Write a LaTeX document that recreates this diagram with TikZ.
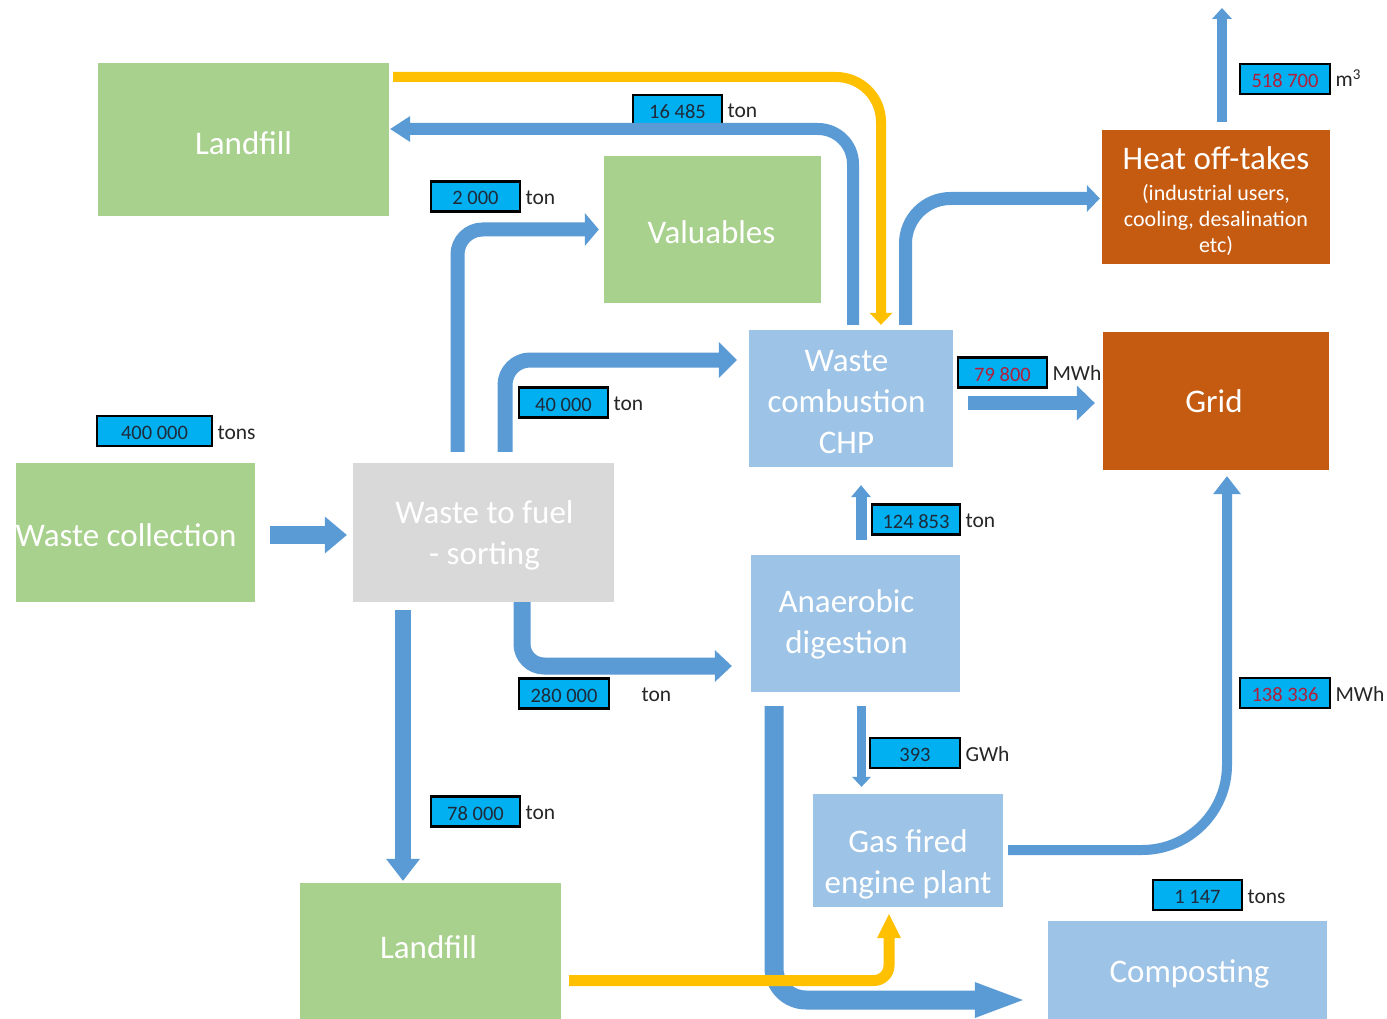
\documentclass[tikz,border=0pt]{standalone}
\usepackage{fontspec}
\setmainfont{Carlito}
\usetikzlibrary{arrows.meta}
\definecolor{boxgreen}{HTML}{A9D18E}
\definecolor{boxgray}{HTML}{D9D9D9}
\definecolor{boxblue}{HTML}{9DC3E6}
\definecolor{boxorange}{HTML}{C55A11}
\definecolor{flowblue}{HTML}{5B9BD5}
\definecolor{flowyellow}{HTML}{FFC000}
\definecolor{valcyan}{HTML}{00B0F0}
\definecolor{valred}{HTML}{B0203C}
\definecolor{valtext}{HTML}{1F2A3A}
\definecolor{unittext}{HTML}{262626}
\begin{document}
\begin{tikzpicture}[x=1pt,y=-1pt,
  proc/.style={inner sep=0pt},
  greenbox/.style={proc, fill=boxgreen},
  graybox/.style={proc, fill=boxgray},
  bluebox/.style={proc, fill=boxblue},
  orangebox/.style={proc, fill=boxorange},
  boxtext/.style={inner sep=0pt, text=white, align=center, font=\fontsize{33}{41}\selectfont},
  valbox/.style={draw=black, line width=2.8pt, fill=valcyan, minimum width=89pt, minimum height=30pt, inner sep=0pt, text=valtext, text height=17pt, text depth=0pt, font=\fontsize{20.5}{24}\selectfont},
  redval/.style={valbox, text=valred},
  unitlabel/.style={anchor=west, inner sep=0pt, text=unittext, text height=16pt, text depth=0pt, font=\fontsize{21.5}{24}\selectfont},
  flow/.style={draw=flowblue, line width=#1pt},
  yflow/.style={draw=flowyellow, line width=#1pt}
]
\useasboundingbox (0,0) rectangle (1387,1019);
\fill[white] (0,0) rectangle (1387,1019);

% process boxes
\node[greenbox, minimum width=291pt, minimum height=153pt] (landtop) at (243.5,139.5) {};
\node[greenbox, minimum width=217pt, minimum height=147pt] (valu) at (712.5,229.5) {};
\node[greenbox, minimum width=239pt, minimum height=139pt] (coll) at (135.5,532.5) {};
\node[graybox, minimum width=261pt, minimum height=139pt] (sort) at (483.5,532.5) {};
\node[bluebox, minimum width=204pt, minimum height=137pt] (chp) at (851,398.5) {};
\node[orangebox, minimum width=228pt, minimum height=134pt] (heat) at (1216,197) {};
\node[orangebox, minimum width=226pt, minimum height=138pt] (grid) at (1216,401) {};
\node[bluebox, minimum width=209pt, minimum height=137pt] (ad) at (855.5,623.5) {};
\node[bluebox, minimum width=190pt, minimum height=113pt] (gas) at (908,850.5) {};
\node[greenbox, minimum width=261pt, minimum height=136pt] (landbot) at (430.5,951) {};
\node[bluebox, minimum width=279pt, minimum height=98pt] (comp) at (1187.5,970) {};

% box texts
\node[boxtext] (landtop-t) at ([yshift=-4pt]landtop.center) {Landfill};
\node[boxtext] (valu-t) at ([xshift=-1pt,yshift=-3pt]valu.center) {Valuables};
\node[boxtext] (coll-t) at ([xshift=-9.5pt,yshift=-3pt]coll.center) {Waste collection};
\node[boxtext] (sort-t) at ([xshift=1pt,yshift=-2.5pt]sort.center) {Waste to fuel\\- sorting};
\node[boxtext] (chp-t) at ([xshift=-4.5pt,yshift=-4pt]chp.center) {Waste\\combustion\\CHP};
\node[boxtext, font=\fontsize{22}{26}\selectfont] (heat-t) at ([yshift=-4pt]heat.center) {{\fontsize{33}{33}\selectfont Heat off-takes}\\[5pt](industrial users,\\cooling, desalination\\etc)};
\node[boxtext] (grid-t) at ([xshift=-2pt]grid.center) {Grid};
\node[boxtext] (ad-t) at ([xshift=-9pt,yshift=-1pt]ad.center) {Anaerobic\\digestion};
\node[boxtext] (gas-t) at ([yshift=-13.5pt]gas.center) {Gas fired\\engine plant};
\node[boxtext] (landbot-t) at ([xshift=-2pt,yshift=4pt]landbot.center) {Landfill};
\node[boxtext] (comp-t) at ([xshift=2pt,yshift=-4pt]comp.center) {Composting};

% value labels
\node[valbox] (q1) at (677.5,110) {16 485};
\node[unitlabel] (q1u) at ([xshift=4pt]q1.east) {ton};
\node[valbox] (q2) at (475.5,196.5) {2 000};
\node[unitlabel] (q2u) at ([xshift=4pt]q2.east) {ton};
\node[valbox, minimum width=115pt] (q3) at (154.5,431) {400 000};
\node[unitlabel] (q3u) at ([xshift=4pt]q3.east) {tons};
\node[valbox] (q4) at (563.5,402.5) {40 000};
\node[unitlabel] (q4u) at ([xshift=4pt]q4.east) {ton};
\node[valbox, minimum width=90pt] (q5) at (564,693.5) {280 000};
\node[unitlabel] (q5u) at ([xshift=31pt]q5.east) {ton};
\node[valbox] (q6) at (475.5,811.5) {78 000};
\node[unitlabel] (q6u) at ([xshift=4pt]q6.east) {ton};
\node[valbox, minimum width=88pt] (q7) at (916,519.5) {124 853};
\node[unitlabel] (q7u) at ([xshift=4pt]q7.east) {ton};
\node[valbox, minimum width=90pt] (q8) at (915,753) {393};
\node[unitlabel] (q8u) at ([xshift=4pt]q8.east) {GWh};
\node[redval] (q9) at (1002.5,372.5) {79 800};
\node[unitlabel] (q9u) at ([xshift=4pt]q9.east) {MWh};
\node[redval, minimum width=90pt] (q10) at (1285,79) {518 700};
\node[unitlabel] (q10u) at ([xshift=4pt]q10.east) {m\textsuperscript{3}};
\node[redval, minimum width=90pt] (q11) at (1285,693) {138 336};
\node[unitlabel] (q11u) at ([xshift=4pt]q11.east) {MWh};
\node[valbox] (q12) at (1197.5,895) {1 147};
\node[unitlabel] (q12u) at ([xshift=4pt]q12.east) {tons};

% blue flows
\draw[flow=18, -{Triangle[width=37pt,length=22pt,line width=0pt]}] ([xshift=15pt,yshift=-2.5pt]coll.east) -- ([xshift=-6pt,yshift=-2.5pt]sort.west);
\draw[flow=14, rounded corners=25pt, -{Triangle[width=33pt,length=14pt,line width=0pt]}] ([xshift=-26pt,yshift=11pt]sort.north) |- ([xshift=-5pt]valu.west);
\draw[flow=15, rounded corners=25pt, -{Triangle[width=36pt,length=18pt,line width=0pt]}] ([xshift=21.5pt,yshift=11pt]sort.north) |- ([xshift=-12pt,yshift=38.5pt]chp.west);
\draw[flow=17, rounded corners=22pt, -{Triangle[width=32pt,length=17pt,line width=0pt]}] ([xshift=38.5pt]sort.south) |- ([xshift=-19pt,yshift=-42.5pt]ad.west);
\draw[flow=16, -{Triangle[width=34pt,length=22pt,line width=0pt]}] ([xshift=-80.5pt,yshift=-8pt]sort.south) -- ([xshift=-27.5pt,yshift=2pt]landbot.north);
\draw[flow=12, rounded corners=35pt, -{Triangle[width=26pt,length=20pt,line width=0pt]}] ([xshift=2pt,yshift=5pt]chp.north) |- ([xshift=1pt,yshift=10.5pt]landtop.east);
\draw[flow=13, rounded corners=45pt, -{Triangle[width=27pt,length=13pt,line width=0pt]}] ([xshift=54.5pt,yshift=5pt]chp.north) |- ([xshift=-2pt,yshift=-1.5pt]heat.west);
\coordinate (heatout) at (1222,8);
\draw[flow=10, -{Triangle[width=20pt,length=11pt,line width=0pt]}] ([xshift=6pt,yshift=8pt]heat.north) -- (heatout);
\draw[flow=14, -{Triangle[width=35pt,length=18pt,line width=0pt]}] ([xshift=15pt,yshift=-4.5pt]chp.east) -- ([xshift=-8pt,yshift=-2pt]grid.west);
\draw[flow=11, -{Triangle[width=20pt,length=12pt,line width=0pt]}] ([xshift=5.5pt,yshift=15pt]ad.north) -- ([xshift=10pt,yshift=-18pt]chp.south);
\draw[flow=9, -{Triangle[width=19pt,length=10pt,line width=0pt]}] ([xshift=6pt,yshift=-14pt]ad.south) -- ([xshift=-46.5pt,yshift=7pt]gas.north);
\draw[flow=10, rounded corners=85pt, -{Triangle[width=28pt,length=18pt,line width=0pt]}] ([xshift=5pt,yshift=0.5pt]gas.east) -| ([xshift=11pt,yshift=-6pt]grid.south);
\draw[flow=19, rounded corners=32pt, -{Triangle[width=36pt,length=48pt,line width=0pt]}] ([xshift=-81.5pt,yshift=-14pt]ad.south) |- ([xshift=-25pt,yshift=-30pt]comp.west);

% yellow flows
\draw[yflow=10, rounded corners=45pt, -{Triangle[width=23pt,length=12pt,line width=0pt]}] ([xshift=4pt,yshift=62.5pt]landtop.east) -| ([xshift=30pt,yshift=5pt]chp.north);
\draw[yflow=11, rounded corners=15pt, -{Triangle[width=24pt,length=24pt,line width=0pt]}] ([xshift=8pt,yshift=-29.5pt]landbot.east) -| ([xshift=-19pt,yshift=-7pt]gas.south);
\end{tikzpicture}
\end{document}
